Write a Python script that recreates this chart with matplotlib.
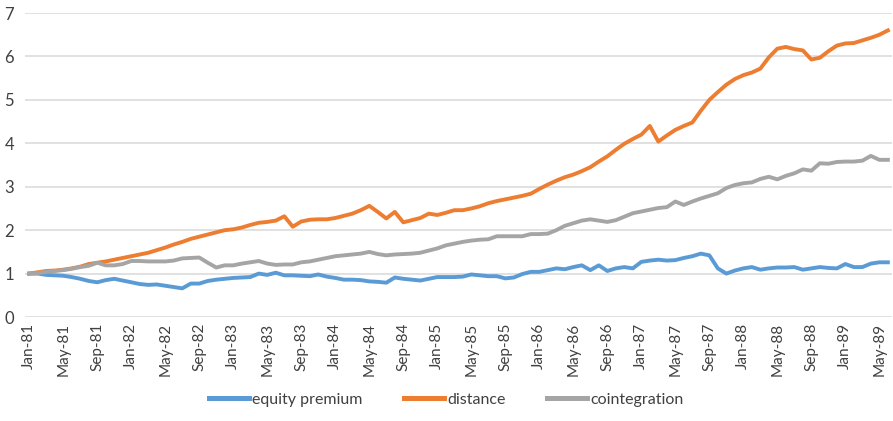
import matplotlib
matplotlib.use('Agg')
import matplotlib.pyplot as plt

plt.rcParams['font.family'] = ['Lato', 'DejaVu Sans']

# monthly values Jan-81 .. Jun-89
equity_premium = [
    1.00, 1.00, 0.97, 0.96, 0.95, 0.92, 0.88, 0.83, 0.80, 0.85,
    0.88, 0.84, 0.80, 0.76, 0.74, 0.75, 0.72, 0.69, 0.66, 0.77,
    0.77, 0.83, 0.86, 0.88, 0.90, 0.91, 0.92, 1.00, 0.97, 1.02,
    0.96, 0.96, 0.95, 0.94, 0.98, 0.93, 0.90, 0.86, 0.86, 0.85,
    0.82, 0.81, 0.79, 0.91, 0.88, 0.86, 0.84, 0.88, 0.92, 0.92,
    0.92, 0.93, 0.98, 0.96, 0.94, 0.94, 0.89, 0.91, 0.99, 1.04,
    1.04, 1.08, 1.12, 1.10, 1.15, 1.19, 1.08, 1.19, 1.06, 1.12,
    1.15, 1.12, 1.27, 1.30, 1.32, 1.30, 1.31, 1.36, 1.40, 1.46,
    1.42, 1.12, 1.00, 1.07, 1.12, 1.15, 1.09, 1.12, 1.14, 1.14,
    1.15, 1.09, 1.12, 1.15, 1.13, 1.12, 1.22, 1.15, 1.15, 1.23,
    1.26, 1.26,
]
distance = [
    1.00, 1.03, 1.06, 1.07, 1.09, 1.12, 1.16, 1.22, 1.25, 1.28,
    1.32, 1.36, 1.40, 1.44, 1.48, 1.54, 1.60, 1.67, 1.73, 1.80,
    1.85, 1.90, 1.95, 2.00, 2.02, 2.06, 2.12, 2.17, 2.19, 2.22,
    2.32, 2.08, 2.20, 2.24, 2.25, 2.25, 2.28, 2.33, 2.38, 2.46,
    2.56, 2.42, 2.27, 2.42, 2.18, 2.23, 2.28, 2.38, 2.35, 2.40,
    2.46, 2.46, 2.50, 2.55, 2.62, 2.67, 2.71, 2.75, 2.79, 2.84,
    2.95, 3.05, 3.14, 3.22, 3.28, 3.36, 3.45, 3.58, 3.70, 3.85,
    3.99, 4.10, 4.20, 4.40, 4.04, 4.18, 4.31, 4.40, 4.48, 4.75,
    5.00, 5.18, 5.35, 5.48, 5.57, 5.63, 5.72, 5.98, 6.18, 6.22,
    6.17, 6.14, 5.93, 5.97, 6.12, 6.25, 6.30, 6.31, 6.37, 6.43,
    6.50, 6.60,
]
cointegration = [
    1.00, 1.01, 1.04, 1.06, 1.08, 1.11, 1.15, 1.18, 1.25, 1.19,
    1.19, 1.22, 1.29, 1.29, 1.28, 1.28, 1.28, 1.30, 1.35, 1.36,
    1.37, 1.25, 1.14, 1.19, 1.19, 1.23, 1.26, 1.29, 1.23, 1.20,
    1.21, 1.21, 1.26, 1.28, 1.32, 1.36, 1.40, 1.42, 1.44, 1.46,
    1.50, 1.45, 1.42, 1.44, 1.45, 1.46, 1.48, 1.53, 1.58, 1.65,
    1.69, 1.73, 1.76, 1.78, 1.79, 1.86, 1.86, 1.86, 1.86, 1.91,
    1.91, 1.92, 2.00, 2.10, 2.16, 2.22, 2.25, 2.22, 2.19, 2.23,
    2.31, 2.39, 2.43, 2.47, 2.51, 2.53, 2.66, 2.58, 2.66, 2.73,
    2.79, 2.85, 2.97, 3.04, 3.08, 3.10, 3.18, 3.23, 3.17, 3.25,
    3.31, 3.40, 3.37, 3.54, 3.53, 3.57, 3.58, 3.58, 3.60, 3.71,
    3.62, 3.62,
]

months = ['Jan', 'Feb', 'Mar', 'Apr', 'May', 'Jun',
          'Jul', 'Aug', 'Sep', 'Oct', 'Nov', 'Dec']
dates = ['%s-%02d' % (months[i % 12], 81 + i // 12) for i in range(len(distance))]

fig = plt.figure(figsize=(8.93, 4.21), dpi=100)
ax = fig.add_axes([0.028, 0.247, 0.971, 0.722])

x = list(range(len(dates)))
ax.plot(x, equity_premium, color='#5B9BD5', lw=2.8, label='equity premium')
ax.plot(x, distance, color='#ED7D31', lw=2.8, label='distance')
ax.plot(x, cointegration, color='#A5A5A5', lw=2.8, label='cointegration')

ax.set_ylim(0, 7)
ax.set_xlim(-0.5, len(dates) - 0.5)
ax.set_yticks(range(8))
ax.set_xticks(x[::4])
ax.set_xticklabels(dates[::4], rotation=90, fontsize=11, color='#404040')
ax.tick_params(axis='y', labelsize=12, labelcolor='#404040', length=0, pad=8)
ax.tick_params(axis='x', length=0, pad=4)
ax.grid(axis='y', color='#D9D9D9', lw=1.1)
ax.set_axisbelow(True)
for s in ax.spines.values():
    s.set_visible(False)

leg = fig.legend(loc='lower center', bbox_to_anchor=(0.5, 0.0), ncol=3, frameon=False,
                 fontsize=11.5, handlelength=2.5, handletextpad=0.2, columnspacing=2.6,
                 labelcolor='#404040')
for h in leg.get_lines():
    h.set_linewidth(3.6)

fig.savefig('out.png', dpi=100)
